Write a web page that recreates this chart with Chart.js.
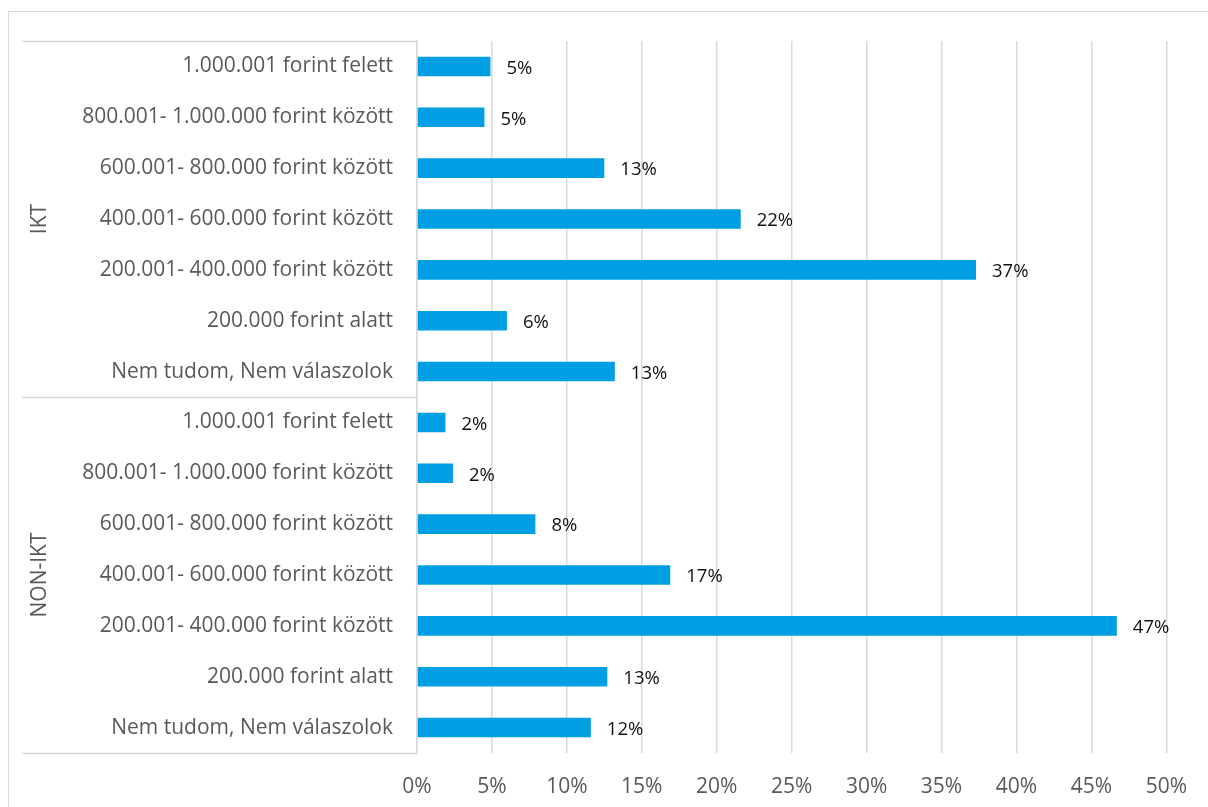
<!DOCTYPE html>
<html>
<head>
<meta charset="utf-8">
<script src="https://cdn.jsdelivr.net/npm/chart.js@4"></script>
<style>
html,body{margin:0;padding:0;background:#fff;overflow:hidden;}
canvas{display:block;}
</style>
</head>
<body>
<canvas id="c" width="1208" height="807"></canvas>
<script>
// ---- Data ----
const categories = [
  "1.000.001 forint felett",
  "800.001- 1.000.000 forint között",
  "600.001- 800.000 forint között",
  "400.001- 600.000 forint között",
  "200.001- 400.000 forint között",
  "200.000 forint alatt",
  "Nem tudom, Nem válaszolok",
  "1.000.001 forint felett",
  "800.001- 1.000.000 forint között",
  "600.001- 800.000 forint között",
  "400.001- 600.000 forint között",
  "200.001- 400.000 forint között",
  "200.000 forint alatt",
  "Nem tudom, Nem válaszolok"
];
const groupNames = ["IKT", "NON-IKT"];
const groupSizes = [7, 7];
const iktValues = [4.9, 4.5, 12.5, 21.6, 37.3, 6.0, 13.2];
const nonIktValues = [1.9, 2.4, 7.9, 16.9, 46.7, 12.7, 11.6];
const xTicks = [0, 5, 10, 15, 20, 25, 30, 35, 40, 45, 50];

const values = iktValues.concat(nonIktValues);
const FONT = "'Open Sans', 'DejaVu Sans', sans-serif";
const GRID = '#d9d9d9';

const decorPlugin = {
  id: 'decor',
  beforeDraw(chart) {
    const ctx = chart.ctx;
    ctx.save();
    ctx.strokeStyle = GRID;
    ctx.lineWidth = 1;
    ctx.strokeRect(8.5, 11.5, 1400, 1000);
    ctx.restore();
  },
  afterDraw(chart) {
    const ctx = chart.ctx;
    const y = chart.scales.y;
    const area = chart.chartArea;
    const left = 22;
    ctx.save();
    ctx.strokeStyle = GRID;
    ctx.lineWidth = 1.5;
    let idx = 0;
    const bounds = [area.top];
    groupSizes.forEach(n => {
      idx += n;
      const p = idx >= categories.length ? area.bottom :
        (y.getPixelForValue(idx - 1) + y.getPixelForValue(idx)) / 2;
      bounds.push(p);
    });
    bounds.forEach(b => {
      ctx.beginPath();
      ctx.moveTo(left, Math.round(b) + 0.5);
      ctx.lineTo(area.left, Math.round(b) + 0.5);
      ctx.stroke();
    });
    ctx.fillStyle = '#595959';
    ctx.font = "21px " + FONT;
    ctx.textAlign = 'center';
    ctx.textBaseline = 'middle';
    groupNames.forEach((g, i) => {
      const cy = (bounds[i] + bounds[i + 1]) / 2;
      ctx.save();
      ctx.translate(40, cy);
      ctx.rotate(-Math.PI / 2);
      ctx.fillText(g, 0, 0);
      ctx.restore();
    });
    ctx.restore();
  },
  afterDatasetsDraw(chart) {
    const ctx = chart.ctx;
    const meta = chart.getDatasetMeta(0);
    ctx.save();
    ctx.fillStyle = '#111';
    ctx.font = "18.5px " + FONT;
    ctx.textAlign = 'left';
    ctx.textBaseline = 'middle';
    meta.data.forEach((bar, i) => {
      ctx.fillText(Math.round(values[i]) + '%', bar.x + 16, bar.y + 2);
    });
    ctx.restore();
  }
};

new Chart(document.getElementById('c'), {
  type: 'bar',
  data: {
    labels: categories,
    datasets: [{
      data: values,
      backgroundColor: '#009FE3',
      borderWidth: 0,
      barPercentage: 0.385,
      categoryPercentage: 1
    }]
  },
  options: {
    indexAxis: 'y',
    responsive: false,
    animation: false,
    devicePixelRatio: 1,
    layout: { padding: { top: 41, right: 40, bottom: 0, left: 0 } },
    plugins: { legend: { display: false }, tooltip: { enabled: false }, title: { display: false } },
    scales: {
      x: {
        min: 0, max: 50,
        afterBuildTicks(scale) { scale.ticks = xTicks.map(v => ({ value: v })); },
        afterFit(scale) { scale.height = 54; },
        grid: { color: GRID, lineWidth: 1.5, drawTicks: false },
        border: { display: false },
        ticks: {
          color: '#595959',
          font: { family: FONT, size: 21 },
          padding: 21,
          callback: v => v + '%'
        }
      },
      y: {
        afterFit(scale) { scale.width = 417; },
        grid: { display: false, drawTicks: false },
        border: { display: true, color: GRID, width: 1.5 },
        ticks: {
          color: '#595959',
          font: { family: FONT, size: 21 },
          padding: 24,
          autoSkip: false
        }
      }
    }
  },
  plugins: [decorPlugin]
});
</script>
</body>
</html>
